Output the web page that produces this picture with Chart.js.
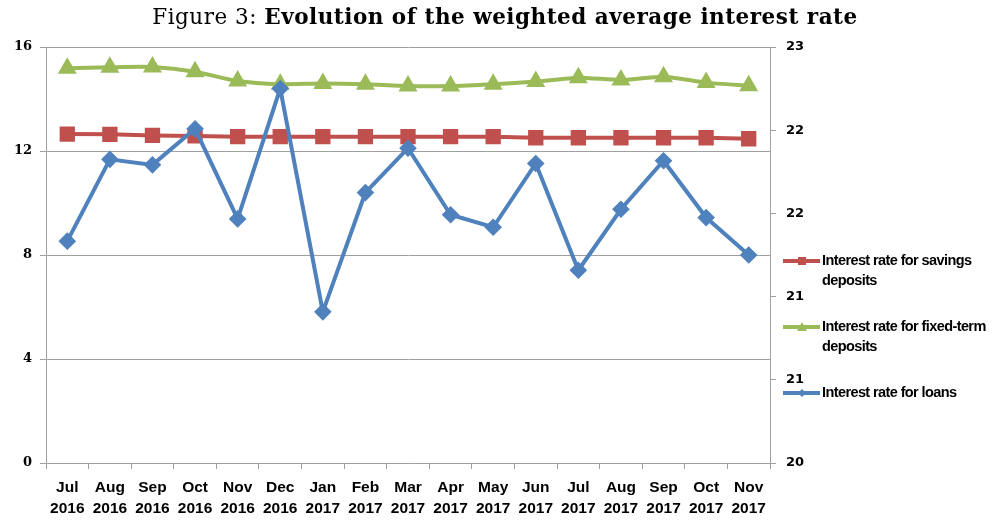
<!DOCTYPE html>
<html>
<head>
<meta charset="utf-8">
<script src="https://cdn.jsdelivr.net/npm/chart.js@4.4.0/dist/chart.umd.min.js"></script>
<style>
    html, body { margin: 0; padding: 0; background: #ffffff; }
    #wrap { position: relative; width: 1000px; height: 521px; }
    #grafica { position: absolute; left: 0; top: 0; }
    #titulo {
        position: absolute; top: 4px; left: 0; width: 1010px; text-align: center;
        font-family: 'DejaVu Serif', serif; font-size: 21.5px; letter-spacing: 0.5px; color: #000;
    }
    #titulo b { font-weight: bold; }
</style>
</head>
<body>
<div id="wrap">
    <canvas id="grafica" width="1000" height="521"></canvas>
    <div id="titulo">Figure 3: <b>Evolution of the weighted average interest rate</b></div>
</div>
<script>
// Datos
const meses = [
    ['Jul', '2016'], ['Aug', '2016'], ['Sep', '2016'], ['Oct', '2016'], ['Nov', '2016'], ['Dec', '2016'],
    ['Jan', '2017'], ['Feb', '2017'], ['Mar', '2017'], ['Apr', '2017'], ['May', '2017'], ['Jun', '2017'],
    ['Jul', '2017'], ['Aug', '2017'], ['Sep', '2017'], ['Oct', '2017'], ['Nov', '2017']
];

// Eje izquierdo
const tasaAhorro = [12.65, 12.64, 12.60, 12.58, 12.55, 12.55, 12.55, 12.55, 12.55, 12.55, 12.55, 12.51, 12.51, 12.51, 12.51, 12.51, 12.47];
const tasaPlazoFijo = [15.18, 15.22, 15.23, 15.05, 14.69, 14.57, 14.60, 14.57, 14.50, 14.50, 14.57, 14.67, 14.82, 14.73, 14.86, 14.63, 14.51];

// Eje derecho
const tasaPrestamos = [21.60, 22.19, 22.15, 22.41, 21.76, 22.70, 21.09, 21.95, 22.27, 21.79, 21.70, 22.16, 21.39, 21.83, 22.18, 21.77, 21.50];

const ticksIzquierda = [0, 4, 8, 12, 16];
const ticksDerecha = [20, 20.6, 21.2, 21.8, 22.4, 23];

const nombresSeries = [
    ['Interest rate for savings', 'deposits'],
    ['Interest rate for fixed-term', 'deposits'],
    ['Interest rate for loans']
];

const rojo = '#C0504D';
const verde = '#9BBB59';
const azul = '#4F81BD';
const gris = '#a0a0a0';

// Leyenda dibujada a mano a la derecha
const leyenda = {
    id: 'leyenda',
    afterDraw(chart) {
        const c = chart.ctx;
        const posY = [261, 327, 393];
        const marcas = ['rect', 'triangle', 'rectRot'];
        c.save();
        chart.data.datasets.forEach((ds, i) => {
            const y = posY[i];
            c.strokeStyle = ds.borderColor;
            c.lineWidth = 4;
            c.beginPath();
            c.moveTo(783, y);
            c.lineTo(820, y);
            c.stroke();
            c.fillStyle = ds.borderColor;
            c.beginPath();
            if (marcas[i] === 'rect') {
                c.rect(798, y - 4, 8, 8);
            } else if (marcas[i] === 'triangle') {
                c.moveTo(802, y - 5); c.lineTo(807, y + 4); c.lineTo(797, y + 4); c.closePath();
            } else {
                c.moveTo(802, y - 4); c.lineTo(806, y); c.lineTo(802, y + 4); c.lineTo(798, y); c.closePath();
            }
            c.fill();
            c.fillStyle = '#000';
            c.font = 'bold 14.5px "Liberation Sans", Arial, sans-serif';
            c.letterSpacing = '-0.6px';
            c.textBaseline = 'middle';
            c.textAlign = 'left';
            nombresSeries[i].forEach((txt, j) => c.fillText(txt, 822, y + j * 20));
        });
        c.restore();
    }
};

const ctx = document.getElementById('grafica').getContext('2d');

const chart = new Chart(ctx, {
    type: 'line',
    data: {
        labels: meses,
        datasets: [
            {
                label: nombresSeries[0].join(' '),
                data: tasaAhorro,
                yAxisID: 'y',
                borderColor: rojo,
                backgroundColor: rojo,
                borderWidth: 4,
                pointStyle: 'rect',
                pointRadius: 8,
                pointHoverRadius: 8,
                tension: 0,
                order: 2
            },
            {
                label: nombresSeries[1].join(' '),
                data: tasaPlazoFijo,
                yAxisID: 'y',
                borderColor: verde,
                backgroundColor: verde,
                borderWidth: 4,
                pointStyle: 'triangle',
                pointRadius: 7,
                pointHoverRadius: 7,
                tension: 0.2,
                order: 1
            },
            {
                label: nombresSeries[2].join(' '),
                data: tasaPrestamos,
                yAxisID: 'y1',
                borderColor: azul,
                backgroundColor: azul,
                borderWidth: 4,
                pointStyle: 'rectRot',
                pointRadius: 6,
                pointHoverRadius: 6,
                tension: 0,
                order: 0
            }
        ]
    },
    options: {
        responsive: false,
        animation: false,
        devicePixelRatio: 1,
        layout: { padding: { top: 47, right: 190, bottom: 0, left: 0 } },
        plugins: {
            legend: { display: false },
            tooltip: { enabled: false },
            title: { display: false }
        },
        scales: {
            x: {
                offset: true,
                grid: { display: true, drawOnChartArea: false, offset: true, tickLength: 6, color: gris },
                border: { color: gris, width: 1 },
                ticks: {
                    color: '#000',
                    font: { family: '"Liberation Sans", Arial, sans-serif', size: 15.5, weight: 'bold', lineHeight: 1.3 },
                    maxRotation: 0, minRotation: 0, autoSkip: false, padding: 9
                },
                afterFit: s => { s.height = 58; }
            },
            y: {
                position: 'left',
                min: 0, max: 16,
                afterBuildTicks: s => { s.ticks = ticksIzquierda.map(v => ({ value: v })); },
                grid: { color: gris, lineWidth: 1, tickLength: 6 },
                border: { color: gris, width: 1 },
                ticks: {
                    color: '#000',
                    font: { family: '"DejaVu Serif", serif', size: 13, weight: 'bold' },
                    padding: 8
                },
                afterFit: s => { s.width = 46; }
            },
            y1: {
                position: 'right',
                min: 20, max: 23,
                afterBuildTicks: s => { s.ticks = ticksDerecha.map(v => ({ value: v })); },
                grid: { drawOnChartArea: false, color: gris, tickLength: 6 },
                border: { color: gris, width: 1 },
                ticks: {
                    color: '#000',
                    font: { family: '"DejaVu Sans", sans-serif', size: 13, weight: 'bold' },
                    padding: 10,
                    callback: v => Math.round(v)
                },
                afterFit: s => { s.width = 40; }
            }
        }
    },
    plugins: [leyenda]
});
</script>
</body>
</html>
